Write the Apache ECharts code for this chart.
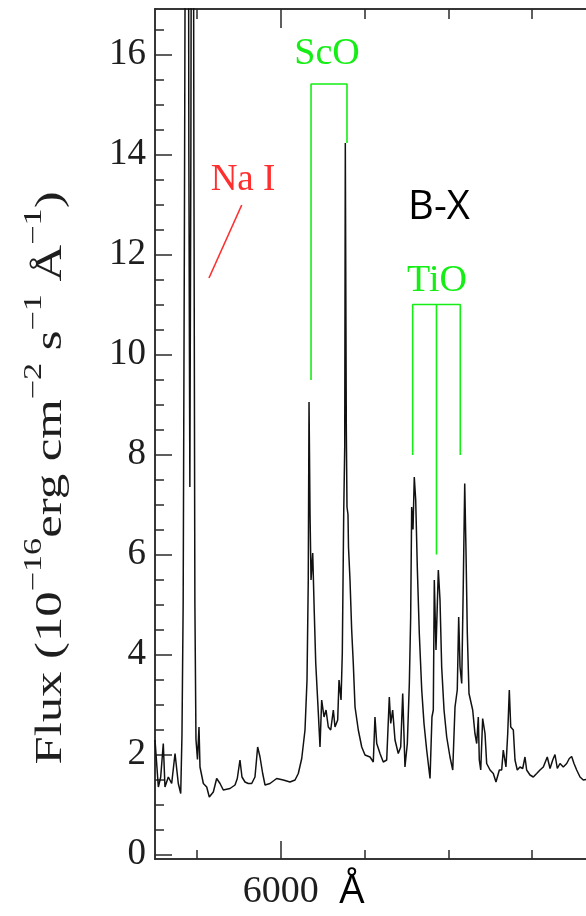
<!DOCTYPE html>
<html>
<head>
<meta charset="utf-8">
<script src="https://cdn.jsdelivr.net/npm/echarts@6/dist/echarts.min.js"></script>
<style>
  html, body { margin: 0; padding: 0; background: #fff; }
  #chart { width: 586px; height: 916px; }
</style>
</head>
<body>
<div id="chart"></div>
<script>
// Optical spectrum: wavelength (Å) and flux (1e-16 erg cm^-2 s^-1 Å^-1)
const wavelength = [
  5850.0, 5854.0, 5856.8, 5859.9, 5861.9, 5865.9, 5869.9, 5873.9, 5877.8, 5880.7,
  5882.2, 5883.6, 5885.0, 5887.0, 5888.8, 5890.4, 5891.6, 5892.8, 5894.7, 5896.4,
  5897.6, 5898.9, 5900.7, 5902.5, 5903.7, 5907.7, 5911.7, 5914.8, 5919.6, 5923.6,
  5927.6, 5931.5, 5939.5, 5945.5, 5948.2, 5951.4, 5953.8, 5957.4, 5961.3, 5965.4,
  5969.3, 5972.5, 5975.3, 5978.5, 5981.3, 5987.2, 5995.2, 6003.1, 6011.1, 6017.1,
  6021.0, 6025.1, 6029.0, 6031.4, 6032.9, 6033.8, 6035.0, 6036.2, 6038.2, 6040.1,
  6041.8, 6044.9, 6046.9, 6048.9, 6051.7, 6054.1, 6056.8, 6059.7, 6062.8, 6064.8,
  6068.0, 6069.6, 6072.0, 6073.5, 6075.2, 6076.4, 6077.1, 6078.3, 6079.1, 6080.3,
  6080.9, 6082.7, 6084.7, 6086.6, 6088.7, 6092.6, 6096.7, 6100.6, 6106.6, 6110.5,
  6112.5, 6114.6, 6118.5, 6122.4, 6126.5, 6129.6, 6131.3, 6133.6, 6136.4, 6140.3,
  6143.2, 6145.6, 6148.3, 6151.1, 6153.5, 6155.1, 6156.3, 6157.9, 6159.4, 6161.1,
  6163.0, 6165.4, 6168.3, 6171.0, 6174.2, 6178.2, 6180.5, 6182.1, 6183.3, 6185.3,
  6188.1, 6190.1, 6192.1, 6194.9, 6198.1, 6202.0, 6205.3, 6208.0, 6210.7, 6212.4,
  6214.0, 6216.0, 6217.9, 6219.6, 6221.1, 6222.7, 6224.7, 6229.1, 6231.8, 6233.9,
  6235.8, 6237.0, 6238.7, 6241.0, 6243.8, 6245.8, 6249.8, 6253.7, 6256.9, 6260.9,
  6263.7, 6265.6, 6268.8, 6270.9, 6272.8, 6274.5, 6277.6, 6279.6, 6282.3, 6285.5,
  6288.8, 6291.5, 6293.5, 6297.5, 6301.4, 6305.5, 6309.4, 6313.4, 6318.1, 6321.4,
  6324.6, 6327.3, 6330.1, 6333.3, 6337.2, 6341.3, 6344.4, 6347.2, 6350.0, 6353.2,
  6357.2, 6361.1, 6363.1, 6372.0, 6385.0, 6400.0, 6420.0, 6445.0
];
const flux = [
  2.29, 1.35, 1.55, 2.22, 1.35, 1.55, 1.42, 2.02, 1.42, 1.22,
  2.40, 5.00, 12.0, 24.0, 34.0, 14.0, 7.35, 14.0, 32.0, 14.0,
  5.00, 2.30, 1.90, 2.55, 1.75, 1.42, 1.35, 1.15, 1.25, 1.52,
  1.42, 1.29, 1.32, 1.39, 1.52, 1.89, 1.55, 1.45, 1.42, 1.42,
  1.55, 2.15, 1.95, 1.62, 1.39, 1.42, 1.52, 1.49, 1.45, 1.49,
  1.62, 1.92, 2.49, 3.49, 5.49, 9.05, 6.80, 5.49, 6.03, 4.82,
  3.83, 2.83, 2.15, 3.09, 2.75, 2.89, 2.55, 2.49, 2.89, 2.55,
  2.69, 3.49, 3.09, 4.02, 6.83, 8.15, 14.23, 8.50, 6.95, 6.80,
  6.15, 5.49, 4.49, 3.83, 2.95, 2.49, 2.15, 1.99, 1.95, 1.85,
  2.75, 2.22, 2.02, 1.85, 1.89, 3.15, 2.62, 2.89, 2.29, 2.02,
  2.15, 3.22, 1.75, 2.22, 3.42, 4.75, 6.95, 6.50, 7.55, 7.09,
  5.75, 4.42, 3.29, 2.62, 2.09, 1.52, 2.75, 2.89, 5.49, 4.09,
  5.69, 5.09, 3.75, 2.89, 2.35, 1.95, 1.69, 2.95, 3.29, 4.75,
  3.75, 3.42, 5.42, 7.42, 6.09, 4.42, 3.22, 2.89, 2.42, 2.22,
  2.75, 1.89, 1.69, 2.72, 2.42, 1.82, 1.69, 1.62, 1.45, 1.69,
  1.69, 2.09, 1.75, 2.42, 3.29, 2.55, 2.49, 1.89, 1.69, 1.75,
  1.72, 1.95, 1.69, 1.59, 1.55, 1.62, 1.69, 1.75, 1.95, 1.72,
  1.89, 2.00, 1.72, 1.82, 1.75, 1.82, 1.92, 1.96, 1.82, 1.69,
  1.55, 1.49, 1.45, 1.52, 1.60, 1.55, 1.60, 1.55
];

// Axis ranges and ticks
const xRange = [5850, 6450];
const yRange = [-0.09, 16.91];
const xMinorTicks = [5900, 6000, 6100, 6200, 6300, 6400];
const xMajorTicks = [6000];
const yMinorTicks = [];
for (let v = 0; v <= 16.5; v += 0.5) yMinorTicks.push(v);
const yMajorTicks = [0, 2, 4, 6, 8, 10, 12, 14, 16];

// Band identifications (wavelength, flux)
const scoBracket = [[6036.2, 9.49], [6036.2, 15.41], [6079.1, 15.41], [6079.1, 14.23]];
const tioBracket = [[6157.5, 7.99], [6157.5, 11.0], [6214.3, 11.0], [6214.3, 7.99]];
const tioMiddle = [[6185.9, 11.0], [6185.9, 6.0]];
const naPointer = [[5953.5, 12.99], [5914.4, 11.53]];

const spectrum = wavelength.map((w, i) => [w, flux[i]]);

const SERIF = '"Liberation Serif", "DejaVu Serif", serif';
const SANS = '"Open Sans", "Liberation Sans", sans-serif';
const GREEN = '#14ee14';
const RED = '#ff2f2f';
const FRAME = '#2a2a2a';

function xAxisDef(position, ticks, len, labels) {
  return {
    type: 'value', min: xRange[0], max: xRange[1], position,
    axisLine: { show: true, onZero: false, lineStyle: { color: FRAME, width: 1.5 } },
    axisTick: { show: true, inside: true, length: len, customValues: ticks,
                lineStyle: { color: FRAME, width: 1.5 } },
    axisLabel: labels ? { show: true, customValues: labels, margin: 14,
                          formatter: v => String(v),
                          fontFamily: SERIF, fontSize: 38, color: '#1e1e1e' }
                      : { show: false },
    splitLine: { show: false }
  };
}
function yAxisDef(ticks, len, labels) {
  return {
    type: 'value', min: yRange[0], max: yRange[1], position: 'left',
    axisLine: { show: true, onZero: false, lineStyle: { color: FRAME, width: 1.5 } },
    axisTick: { show: true, inside: true, length: len, customValues: ticks,
                lineStyle: { color: FRAME, width: 1.5 } },
    axisLabel: labels ? { show: true, customValues: labels, margin: 9,
                          formatter: v => String(v),
                          fontFamily: SERIF, fontSize: 37, color: '#1e1e1e' }
                      : { show: false },
    splitLine: { show: false }
  };
}

function pathSeries(points, color) {
  return {
    type: 'line', data: points, xAxisIndex: 0, yAxisIndex: 0,
    symbol: 'none', silent: true, animation: false,
    lineStyle: { color, width: 1.6 }, z: 3
  };
}

const chart = echarts.init(document.getElementById('chart'), null, { renderer: 'canvas' });
chart.setOption({
  backgroundColor: '#ffffff',
  animation: false,
  grid: { left: 155, top: 9, width: 502.8, height: 850,
          containLabel: false, outerBoundsMode: 'none' },
  xAxis: [
    xAxisDef('bottom', xMinorTicks, 9),
    xAxisDef('bottom', xMajorTicks, 18, xMajorTicks),
    xAxisDef('top', xMinorTicks, 10),
    xAxisDef('top', xMajorTicks, 19)
  ],
  yAxis: [
    yAxisDef(yMinorTicks, 9),
    yAxisDef(yMajorTicks, 17, yMajorTicks)
  ],
  series: [
    {
      type: 'line', data: spectrum, xAxisIndex: 0, yAxisIndex: 0,
      symbol: 'none', clip: true, animation: false,
      lineStyle: { color: '#111111', width: 1.5 }, z: 2
    },
    pathSeries(scoBracket, GREEN),
    pathSeries(tioBracket, GREEN),
    pathSeries(tioMiddle, GREEN),
    pathSeries(naPointer, RED)
  ],
  graphic: [
    { type: 'text', x: 46, y: 478, rotation: Math.PI / 2, scaleX: 1.37,
      style: {
        text: '{b|Flux (10}{s|−16}{b|erg cm}{s|−2}{b| s}{s|−1}{b| Å}{s|−1}{b|)}',
        align: 'center', verticalAlign: 'middle',
        rich: {
          b: { fontFamily: SERIF, fontSize: 37, lineHeight: 48, verticalAlign: 'bottom', fill: '#1e1e1e' },
          s: { fontFamily: SERIF, fontSize: 25, lineHeight: 25, verticalAlign: 'top', fill: '#1e1e1e' }
        }
      } },
    { type: 'text', x: 327, y: 54, style: { text: 'ScO', fontFamily: SERIF, fontSize: 38,
      fill: GREEN, align: 'center', verticalAlign: 'middle' } },
    { type: 'text', x: 437, y: 281, style: { text: 'TiO', fontFamily: SERIF, fontSize: 38,
      fill: GREEN, align: 'center', verticalAlign: 'middle' } },
    { type: 'text', x: 243, y: 180, style: { text: 'Na I', fontFamily: SERIF, fontSize: 37,
      fill: RED, align: 'center', verticalAlign: 'middle' } },
    { type: 'text', x: 439, y: 208, style: { text: 'B-X', fontFamily: SANS, fontSize: 40,
      fill: '#000000', align: 'center', verticalAlign: 'middle' } },
    { type: 'text', x: 352, y: 892, style: { text: 'Å', fontFamily: SANS, fontSize: 40,
      fill: '#000000', align: 'center', verticalAlign: 'middle' } }
  ]
});
</script>
</body>
</html>
